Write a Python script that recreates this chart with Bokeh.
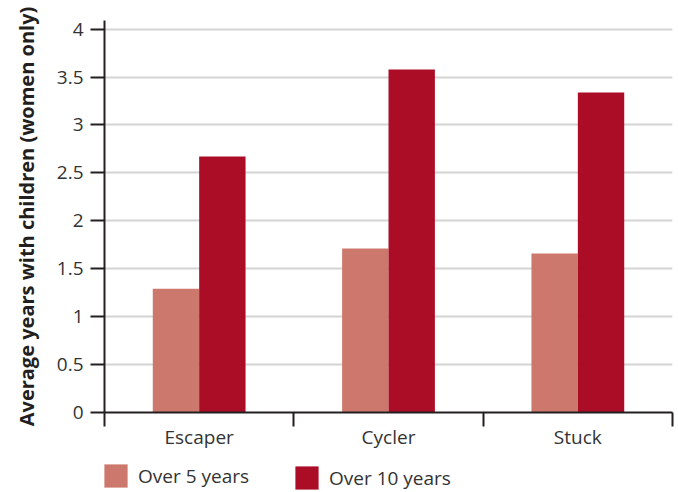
import numpy as np
from bokeh.plotting import figure
from bokeh.layouts import column
from bokeh.models import (ColumnDataSource, Range1d, FixedTicker, CustomJSTickFormatter,
                          Legend, LegendItem)
from bokeh.transform import dodge
from bokeh.embed import file_html
from bokeh.resources import INLINE

# ---- data ----
categories = ["Escaper", "Cycler", "Stuck"]
over_5_years = [1.29, 1.71, 1.66]
over_10_years = [2.67, 3.58, 3.34]
series_names = ["Over 5 years", "Over 10 years"]
y_ticks = [0, 0.5, 1, 1.5, 2, 2.5, 3, 3.5, 4]
y_title = "Average years with children (women only)"

FONT = "Open Sans"
TXT = "#333333"
AX = "#231f20"
C5 = "#CD786C"
C10 = "#AB0D27"

centers = np.arange(len(categories)) + 0.5
src = ColumnDataSource(dict(x=centers, cat=categories, a=over_5_years, b=over_10_years))

p = figure(width=676, height=458, output_backend="svg", toolbar_location=None,
           x_range=Range1d(0, len(categories)), y_range=Range1d(0, 4.09),
           min_border_left=104, min_border_right=4, min_border_top=20, min_border_bottom=46)
p.outline_line_color = None
p.background_fill_color = "white"
p.border_fill_color = "white"

bw = 0.245
r1 = p.vbar(x=dodge("x", -bw / 2), top="a", width=bw, source=src, color=C5, line_color=None)
r2 = p.vbar(x=dodge("x", bw / 2), top="b", width=bw, source=src, color=C10, line_color=None)

# grid
p.xgrid.visible = False
p.ygrid.grid_line_color = "#d4d4d4"
p.ygrid.grid_line_width = 2

# y axis
ya = p.yaxis[0]
ya.ticker = FixedTicker(ticks=y_ticks)
ya.formatter = CustomJSTickFormatter(code="return String(tick)")
ya.axis_line_color = AX
ya.axis_line_width = 2
ya.major_tick_line_color = AX
ya.major_tick_line_width = 2
ya.major_tick_in = 0
ya.major_tick_out = 14
ya.minor_tick_line_color = None
ya.major_label_standoff = 7
ya.major_label_text_font = FONT
ya.major_label_text_font_size = "19px"
ya.major_label_text_color = TXT
ya.axis_label = y_title
ya.axis_label_text_font = FONT
ya.axis_label_text_font_style = "bold"
ya.axis_label_text_font_size = "20px"
ya.axis_label_text_color = "#231f20"
ya.axis_label_standoff = 14

# x axis: labels at centers, ticks at category boundaries (minor ticks)
xa = p.xaxis[0]
xa.ticker = FixedTicker(ticks=list(centers), minor_ticks=list(range(len(categories) + 1)))
xa.major_label_overrides = {float(c): n for c, n in zip(centers, categories)}
xa.axis_line_color = AX
xa.axis_line_width = 2
xa.major_tick_line_color = None
xa.major_tick_in = 0
xa.major_tick_out = 0
xa.minor_tick_line_color = AX
xa.minor_tick_line_width = 2
xa.minor_tick_in = 0
xa.minor_tick_out = 14
xa.major_label_standoff = -3
xa.major_label_text_font = FONT
xa.major_label_text_font_size = "19px"
xa.major_label_text_color = TXT

# legend strip (separate figure under the chart; its bars sit outside its view)
lf = figure(width=676, height=34, output_backend="svg", toolbar_location=None,
            x_range=Range1d(100, 101), y_range=Range1d(100, 101),
            x_axis_location=None, y_axis_location=None, min_border=0)
lf.outline_line_color = None
lf.xgrid.visible = False
lf.ygrid.visible = False
k1 = lf.vbar(x="x", top="a", width=bw, source=src, color=C5, line_color=None)
k2 = lf.vbar(x="x", top="b", width=bw, source=src, color=C10, line_color=None)

def mk_legend(label, r, loc):
    return Legend(items=[LegendItem(label=label, renderers=[r])], location=loc,
                  orientation="horizontal", padding=0, margin=0, spacing=0,
                  glyph_width=29, glyph_height=29, label_standoff=8,
                  border_line_color=None, background_fill_alpha=0,
                  label_text_font=FONT, label_text_font_size="19px",
                  label_text_color=TXT)

lf.add_layout(mk_legend(series_names[0], k1, (-3, 2)), "center")
lf.add_layout(mk_legend(series_names[1], k2, (188, 0)), "center")

layout = column(p, lf, spacing=0)
open("out.html", "w").write(file_html(layout, INLINE))
